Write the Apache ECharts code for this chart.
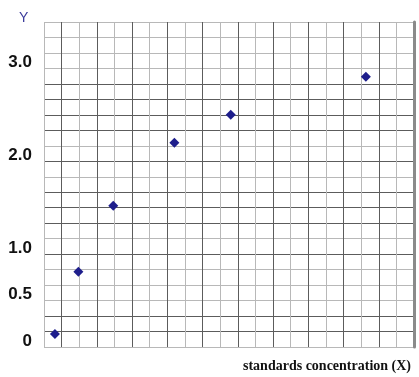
<!DOCTYPE html>
<html>
<head>
<meta charset="utf-8">
<script src="https://cdn.jsdelivr.net/npm/echarts@6/dist/echarts.min.js"></script>
<style>
  html, body { margin: 0; padding: 0; background: #fff; }
  #chart { width: 419px; height: 377px; }
</style>
</head>
<body>
<div id="chart"></div>
<script>
// data (x in grid columns, y in Y units)
var xValues = [0.62, 1.95, 3.93, 7.4, 10.6, 18.27];
var yValues = [0.14, 0.81, 1.52, 2.2, 2.5, 2.91];
var yTickValues = [0, 0.5, 1, 2, 3];
var yTickLabels = ['0', '0.5', '1.0', '2.0', '3.0'];

var dark = '#5c5c5c', light = '#b8b8b8';
// horizontal lines from bottom to top, shade as seen in the picture
var rowShades = [light, dark, dark, light, light, light, dark, light, dark, dark, dark,
                 light, dark, light, dark, dark, dark, dark, light, light, light, dark];

var points = [];
for (var i = 0; i < xValues.length; i++) {
    points.push([xValues[i], yValues[i]]);
}

var myChart = echarts.init(document.getElementById('chart'));
var option = {
    animation: false,
    title: {
        text: 'Y',
        left: 14,
        top: 6,
        textStyle: { fontSize: 14, fontWeight: 'normal', color: '#3b3b9b', fontFamily: 'Liberation Sans' }
    },
    grid: { left: 44, top: 22, right: 5, bottom: 30 },
    xAxis: {
        type: 'value',
        min: 0,
        max: 21,
        interval: 1,
        name: 'standards concentration (X)',
        nameLocation: 'end',
        nameGap: -3,
        nameTextStyle: {
            align: 'right',
            verticalAlign: 'top',
            padding: [12, 0, 0, 0],
            fontFamily: 'Liberation Serif',
            fontWeight: 'bold',
            fontSize: 14,
            color: '#111'
        },
        axisLine: { show: false },
        axisTick: { show: false },
        axisLabel: { show: false },
        splitLine: { show: true, lineStyle: { color: [light, dark], width: 1 } }
    },
    yAxis: [{
        type: 'value',
        min: 0,
        max: 3.5,
        interval: 1 / 6,
        axisLine: { show: false },
        axisTick: { show: false },
        axisLabel: {
            margin: 12,
            fontFamily: 'Liberation Sans',
            fontWeight: 'bold',
            fontSize: 17,
            color: '#111',
            verticalAlign: 'bottom',
            lineHeight: 12,
            formatter: function(v) {
                for (var k = 0; k < yTickValues.length; k++) {
                    if (Math.abs(v - yTickValues[k]) < 1e-6) return yTickLabels[k];
                }
                return '';
            }
        },
        splitLine: { show: true, lineStyle: { color: rowShades, width: 1 } }
    }, {
        type: 'value',
        position: 'right',
        min: 0,
        max: 3.5,
        axisLine: { show: true, lineStyle: { color: '#8a8a8a', width: 3 } },
        axisTick: { show: false },
        axisLabel: { show: false },
        splitLine: { show: false }
    }],
    series: [{
        type: 'scatter',
        data: points,
        symbol: 'diamond',
        symbolSize: 10,
        itemStyle: { color: '#1e1e8c', opacity: 1 }
    }]
};
myChart.setOption(option);
</script>
</body>
</html>
